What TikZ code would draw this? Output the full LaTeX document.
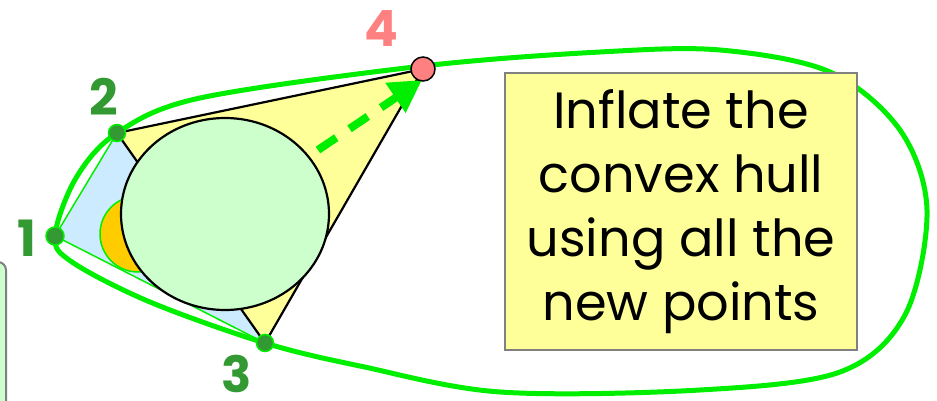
\documentclass[tikz,border=0pt]{standalone}
\usepackage{fontspec}
\setmainfont{Poppins}
\usetikzlibrary{arrows.meta}
\definecolor{hullgreen}{HTML}{00EE00}
\definecolor{ptgreen}{HTML}{339933}
\definecolor{ptpink}{HTML}{FF8080}
\definecolor{lyellow}{HTML}{FFFF99}
\definecolor{lblue}{HTML}{CCEBFF}
\definecolor{lgreen}{HTML}{CCFFCC}
\definecolor{orng}{HTML}{FFCC00}
\tikzset{
  oldpt/.style={circle,fill=ptgreen,draw=hullgreen,line width=1.5pt,inner sep=0pt,minimum size=18pt},
  newpt/.style={circle,fill=ptpink,draw=black,line width=1.5pt,inner sep=0pt,minimum size=24pt},
  ptlabel/.style={font=\bfseries\fontsize{50}{50}\selectfont,text=ptgreen},
  hull/.style={draw=hullgreen,line width=5pt},
  note/.style={draw=gray,line width=2pt,fill=lyellow,minimum width=352pt,minimum height=277pt,align=center,inner sep=0pt,font=\fontsize{51}{64}\selectfont},
}
\begin{document}
\begin{tikzpicture}[x=1pt,y=-1pt]
\useasboundingbox (0,0) rectangle (937,401);
% left partial box
\draw[gray,line width=2pt,fill=lgreen,rounded corners=8pt] (-60,262) rectangle (6,460);
% points
\coordinate (c1) at (55,236);
\coordinate (c2) at (117,133);
\coordinate (c3) at (265,343);
\coordinate (c4) at (423,69);
% blue triangle
\draw[fill=lblue,draw=hullgreen,line width=1.5pt] (c1) -- (c2) -- (c3) -- cycle;
% orange circle
\draw[fill=orng,draw=hullgreen,line width=1.5pt] (138,234) circle [radius=38];
% yellow triangle
\draw[fill=lyellow,draw=black,line width=2.2pt] (c2) -- (c4) -- (c3) -- cycle;
% big circle
\draw[fill=lgreen,draw=black,line width=2.2pt] (225,214) ellipse [x radius=104, y radius=96];
% arrow
\coordinate (as) at (318,150);
\draw[hullgreen,line width=8pt,dash pattern=on 22pt off 16pt,-{Triangle[length=32pt,width=34pt]}] (as) -- (422,80);
% hull curve
\draw[hull] plot[smooth cycle,tension=0.55] coordinates {
 (55,236) (76,178) (117,133) (200,98) (423,66) (600,52) (720,50) (830,72)
 (900,130) (927,210) (905,315) (840,372) (700,390) (500,392) (360,366)
 (265,343) (150,302) (72,262)};
% point nodes
\node[oldpt] (p1) at (c1) {};
\node[oldpt,minimum size=17pt] (p2) at (c2) {};
\node[oldpt,minimum size=17pt] (p3) at (c3) {};
\node[newpt] (p4) at (c4) {};
% labels
\node[ptlabel] (l1) at (27,238) {1};
\node[ptlabel] (l2) at (104,97) {2};
\node[ptlabel] (l3) at (237,374) {3};
\node[ptlabel,text=ptpink] (l4) at (381,29) {4};
% note
\node[note] (box) at (681,211.5) {Inflate the\\convex hull\\using all the\\new points};
\end{tikzpicture}
\end{document}
